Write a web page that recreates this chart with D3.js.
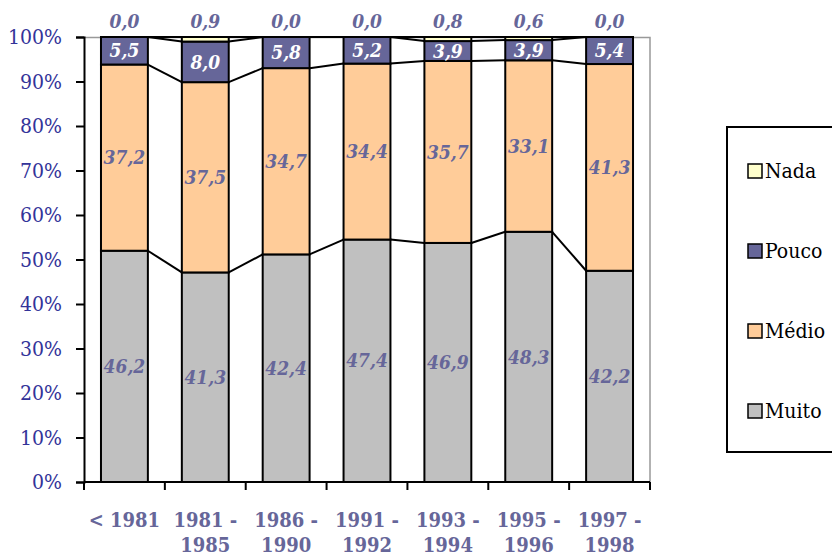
<!DOCTYPE html>
<html>
<head>
<meta charset="utf-8">
<script src="https://cdn.jsdelivr.net/npm/d3@7"></script>
<style>
  body { margin: 0; background: #fff; }
</style>
</head>
<body>
<div id="chart"></div>
<script>
// data
var categories = ["< 1981", "1981 - 1985", "1986 - 1990", "1991 - 1992", "1993 - 1994", "1995 - 1996", "1997 - 1998"];
var muito = [46.2, 41.3, 42.4, 47.4, 46.9, 48.3, 42.2];
var medio = [37.2, 37.5, 34.7, 34.4, 35.7, 33.1, 41.3];
var pouco = [5.5, 8.0, 5.8, 5.2, 3.9, 3.9, 5.4];
var nada = [0.0, 0.9, 0.0, 0.0, 0.8, 0.6, 0.0];
var seriesNames = ["Muito", "Médio", "Pouco", "Nada"];
var seriesColors = ["#C0C0C0", "#FFCC99", "#666699", "#FFFFCC"];
var labelColors = ["#666699", "#666699", "#ffffff", "#666699"];

var FONT = "'DejaVu Serif Condensed', 'DejaVu Serif', serif";

var W = 832, H = 558;
var margin = {top: 37, right: 182, bottom: 76, left: 84},
    width = W - margin.left - margin.right,
    height = H - margin.top - margin.bottom;

var svg = d3.select("#chart")
  .append("svg")
    .attr("width", W)
    .attr("height", H)
    .style("font-family", FONT)
    .style("font-stretch", "condensed");

var g = svg.append("g")
    .attr("transform", "translate(" + margin.left + "," + margin.top + ")");

// build table for stacking
var table = categories.map(function(c, i) {
  return {cat: c, Muito: muito[i], "Médio": medio[i], Pouco: pouco[i], Nada: nada[i]};
});
var stack = d3.stack()
  .keys(seriesNames)
  .offset(d3.stackOffsetExpand);
var layers = stack(table);

var x = d3.scaleBand()
  .domain(categories)
  .range([0, width])
  .paddingInner(0.42)
  .paddingOuter(0.21);
var band = d3.scaleBand().domain(categories).range([0, width]);

var y = d3.scaleLinear()
  .domain([0, 1])
  .range([height, 0]);

// plot area border (top/right)
g.append("path")
  .attr("d", "M0,0.5H" + width + "V" + height)
  .attr("fill", "none")
  .attr("stroke", "#999")
  .attr("stroke-width", 1.5);

// series lines between bars
layers.forEach(function(layer) {
  for (var i = 0; i < categories.length - 1; i++) {
    g.append("line")
      .attr("x1", x(categories[i]) + x.bandwidth())
      .attr("x2", x(categories[i + 1]))
      .attr("y1", y(layer[i][1]))
      .attr("y2", y(layer[i + 1][1]))
      .attr("stroke", "#000")
      .attr("stroke-width", 2);
  }
});

// bars
layers.forEach(function(layer, si) {
  g.selectAll(".bar" + si)
    .data(layer)
    .enter()
    .append("rect")
      .attr("x", function(d, i) { return x(categories[i]); })
      .attr("y", function(d) { return y(d[1]); })
      .attr("width", x.bandwidth())
      .attr("height", function(d) { return y(d[0]) - y(d[1]); })
      .attr("fill", seriesColors[si])
      .attr("stroke", "#000")
      .attr("stroke-width", 2);
});

// y axis
var yAxis = g.append("g")
  .call(d3.axisLeft(y).tickValues(d3.range(0, 1.01, 0.1)).tickFormat(d3.format(".0%")).tickSize(8).tickPadding(14));
yAxis.attr("font-family", null).attr("font-size", null);
yAxis.select(".domain").attr("stroke", "#000").attr("stroke-width", 2);
yAxis.selectAll(".tick line").attr("stroke", "#000").attr("stroke-width", 2);
yAxis.selectAll(".tick text")
  .style("font-family", FONT)
  .style("font-size", "21px")
  .attr("fill", "#333399");

// x axis: ticks on band boundaries
var xAxis = g.append("g")
  .attr("transform", "translate(0," + height + ")");
xAxis.append("line")
  .attr("x1", 0).attr("x2", width)
  .attr("stroke", "#000").attr("stroke-width", 2);
var bounds = categories.map(function(c) { return band(c); }).concat([width]);
xAxis.selectAll(".xt")
  .data(bounds)
  .enter()
  .append("line")
    .attr("x1", function(d) { return d; })
    .attr("x2", function(d) { return d; })
    .attr("y1", 0).attr("y2", 8)
    .attr("stroke", "#000").attr("stroke-width", 2);

var catText = xAxis.selectAll(".cat")
  .data(categories)
  .enter()
  .append("text")
    .attr("text-anchor", "middle")
    .attr("fill", "#666699")
    .style("font-family", FONT)
    .style("font-size", "20px")
    .style("font-weight", "bold")
    .attr("transform", function(d) { return "translate(" + (band(d) + band.bandwidth() / 2) + ",45)"; });
catText.each(function(d) {
  var parts = d.indexOf(" - ") > 0 ? [d.split(" - ")[0] + " -", d.split(" - ")[1]] : [d];
  d3.select(this).selectAll("tspan")
    .data(parts)
    .enter()
    .append("tspan")
      .attr("x", 0)
      .attr("dy", function(p, j) { return j === 0 ? 0 : 25; })
      .text(function(p) { return p; });
});

// value labels
var fmt = function(v) { return d3.format(".1f")(v).replace(".", ","); };
layers.forEach(function(layer, si) {
  var key = seriesNames[si];
  g.selectAll(".lab" + si)
    .data(layer)
    .enter()
    .append("text")
      .attr("x", function(d, i) { return x(categories[i]) + x.bandwidth() / 2; })
      .attr("y", function(d) {
        if (key === "Nada") return y(1) - 16;
        return (y(d[0]) + y(d[1])) / 2;
      })
      .attr("dy", "0.35em")
      .attr("text-anchor", "middle")
      .attr("fill", labelColors[si])
      .style("font-family", FONT)
      .style("font-size", "19px")
      .style("font-weight", "bold")
      .style("font-style", "italic")
      .text(function(d) { return fmt(d.data[key]); });
});

// legend
var legend = svg.append("g")
  .attr("transform", "translate(727,127)");
legend.append("rect")
  .attr("x", 0).attr("y", 0)
  .attr("width", 120).attr("height", 325)
  .attr("fill", "#fff")
  .attr("stroke", "#000")
  .attr("stroke-width", 2);
var legendOrder = [3, 2, 1, 0];
legendOrder.forEach(function(si, k) {
  var ly = 44 + k * 80;
  legend.append("rect")
    .attr("x", 21).attr("y", ly - 7)
    .attr("width", 14).attr("height", 14)
    .attr("fill", seriesColors[si])
    .attr("stroke", "#000")
    .attr("stroke-width", 1.5);
  legend.append("text")
    .attr("x", 38).attr("y", ly)
    .attr("dy", "0.35em")
    .attr("fill", "#000")
    .style("font-family", FONT)
    .style("font-size", "21px")
    .text(seriesNames[si]);
});
</script>
</body>
</html>
